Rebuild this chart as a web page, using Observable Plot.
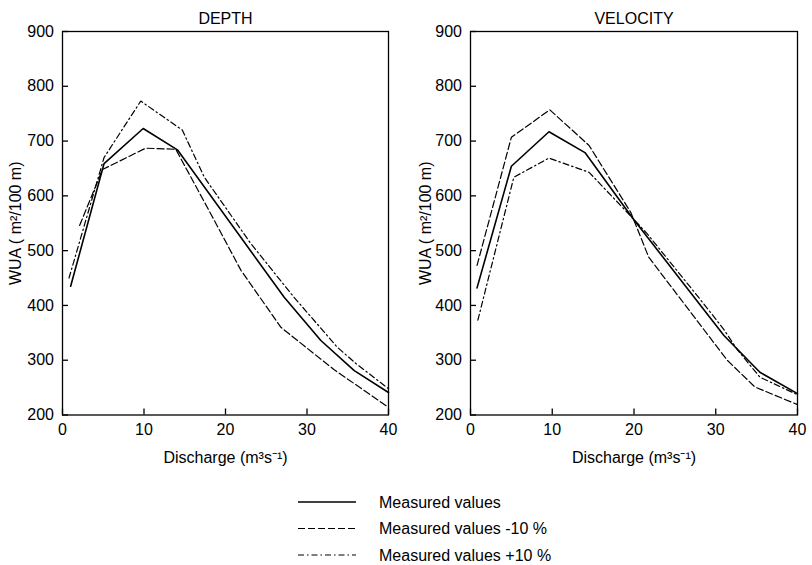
<!DOCTYPE html>
<html><head><meta charset="utf-8">
<script src="https://cdn.jsdelivr.net/npm/d3@7"></script>
<script src="https://cdn.jsdelivr.net/npm/@observablehq/plot@0.6"></script>
<style>
body{margin:0;background:#fff;font-family:"Liberation Sans",Arial,sans-serif;}
#wrap{position:relative;width:812px;height:565px;background:#fff;}
.panel{position:absolute;top:0;}
#legend{position:absolute;left:0;top:0;}
</style></head><body><div id="wrap"></div>
<script>
// ---- data ----
const panelTitles = ["DEPTH", "VELOCITY"];
const xTicks = [0, 10, 20, 30, 40];
const yTicks = [200, 300, 400, 500, 600, 700, 800, 900];
const xLabel = "Discharge (m³s⁻¹)";
const yLabel = "WUA ( m²/100 m)";
const seriesNames = ["Measured values", "Measured values -10 %", "Measured values +10 %"];

// DEPTH
const depthMeasuredQ   = [1.0, 5.1, 9.9, 14.1, 27.2, 31.7, 35.8, 40];
const depthMeasuredWUA = [435, 659, 723, 684, 415, 336, 281, 241];
const depthMinusQ      = [2.1, 4.9, 10.2, 13.9, 18.2, 21.9, 26.8, 33.3, 40];
const depthMinusWUA    = [546, 648, 687, 685, 567, 464, 360, 283, 214];
const depthPlusQ       = [0.8, 5.1, 9.6, 14.7, 17.4, 23.1, 28.4, 33.7, 36, 40];
const depthPlusWUA     = [450, 670, 773, 720, 634, 513, 415, 324, 294, 248];

// VELOCITY
const velMeasuredQ   = [0.8, 5.0, 9.6, 14.0, 19.8, 31.0, 35.4, 40];
const velMeasuredWUA = [432, 654, 717, 679, 560, 345, 278, 239];
const velMinusQ      = [0.8, 5.0, 9.7, 14.5, 19.6, 21.8, 31.4, 34.8, 40];
const velMinusWUA    = [473, 707, 757, 692, 570, 488, 300, 251, 219];
const velPlusQ       = [0.9, 5.3, 9.6, 14.5, 19.8, 21.6, 28.1, 31.0, 32.6, 35.4, 40];
const velPlusWUA     = [373, 634, 669, 643, 560, 531, 411, 356, 320, 269, 237];

// ---- styles ----
const styles = [
  {strokeWidth: 1.6, dash: null},
  {strokeWidth: 1.2, dash: "7,3"},
  {strokeWidth: 1.2, dash: "6,3,1.5,3"}
];
const font = "Liberation Sans, Arial, Helvetica, sans-serif";
const W = 406, H = 475, MT = 31, MB = 60.5, TICK = 6;
const xDomain = [0, 40], yDomain = [200, 900];

function toRows(q, w) { return q.map((d, i) => ({q: d, w: w[i]})); }

function panel(title, series, ml, mr, ylDx) {
  const frameH = H - MT - MB, frameW = W - ml - mr;
  // tick length expressed in data units of each scale
  const yTickLen = TICK * (yDomain[1] - yDomain[0]) / frameH;
  const xTickLen = TICK * (xDomain[1] - xDomain[0]) / frameW;
  return Plot.plot({
    width: W, height: H,
    marginLeft: ml, marginRight: mr, marginTop: MT, marginBottom: MB,
    style: {fontFamily: font, fontSize: "16px", color: "black", background: "white", overflow: "visible"},
    x: {domain: xDomain},
    y: {domain: yDomain},
    marks: [
      Plot.frame({stroke: "black", fill: "none", strokeWidth: 1.3}),
      Plot.axisX({ticks: xTicks, tickSize: 0, tickPadding: 9, label: null, fontSize: 16}),
      Plot.axisY({ticks: yTicks, tickSize: 0, tickPadding: 8.5, label: null, fontSize: 16}),
      // inward tick marks
      Plot.ruleX(xTicks, {x: d => d, y1: yDomain[0], y2: yDomain[0] + yTickLen, stroke: "black", strokeWidth: 1.3}),
      Plot.ruleY(yTicks, {y: d => d, x1: xDomain[0], x2: xDomain[0] + xTickLen, stroke: "black", strokeWidth: 1.3}),
      ...series.map((s, i) => Plot.line(toRows(s[0], s[1]), {
        x: "q", y: "w", stroke: "black",
        strokeWidth: styles[i].strokeWidth, strokeDasharray: styles[i].dash
      })),
      Plot.text([title], {frameAnchor: "top", lineAnchor: "middle", textAnchor: "middle", dy: -13, fontSize: 16}),
      Plot.text([xLabel], {frameAnchor: "bottom", lineAnchor: "middle", textAnchor: "middle", dy: 42.5, fontSize: 16}),
      Plot.text([yLabel], {frameAnchor: "left", lineAnchor: "middle", textAnchor: "middle", rotate: -90, dx: ylDx, fontSize: 16})
    ]
  });
}

const wrap = document.getElementById("wrap");
const p1 = panel(panelTitles[0], [[depthMeasuredQ, depthMeasuredWUA], [depthMinusQ, depthMinusWUA], [depthPlusQ, depthPlusWUA]], 62, 18, -47);
p1.classList.add("panel"); p1.style.left = "0px";
wrap.appendChild(p1);
const p2 = panel(panelTitles[1], [[velMeasuredQ, velMeasuredWUA], [velMinusQ, velMinusWUA], [velPlusQ, velPlusWUA]], 64, 15, -45);
p2.classList.add("panel"); p2.style.left = "406px";
wrap.appendChild(p2);

// ---- legend ----
const leg = d3.select(wrap).append("svg").attr("id", "legend")
  .attr("width", 812).attr("height", 565)
  .style("pointer-events", "none");
const rowY = [502, 528.5, 555];
seriesNames.forEach((name, i) => {
  leg.append("line").attr("x1", 298).attr("x2", 356).attr("y1", rowY[i]).attr("y2", rowY[i])
    .attr("stroke", "black").attr("stroke-width", styles[i].strokeWidth)
    .attr("stroke-dasharray", styles[i].dash);
  leg.append("text").attr("x", 379).attr("y", rowY[i]).attr("dy", "0.36em")
    .attr("font-family", font).attr("font-size", 16).attr("fill", "black").text(name);
});
</script>
</body></html>
